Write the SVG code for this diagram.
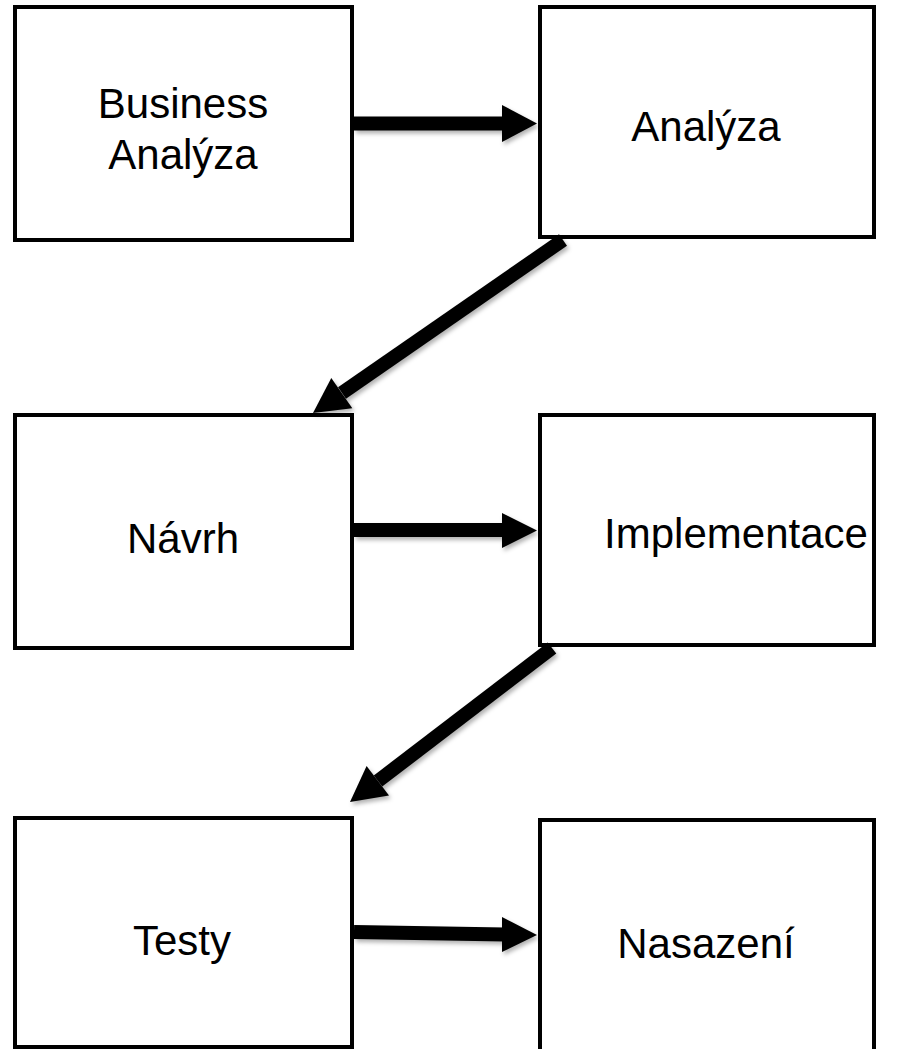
<svg xmlns="http://www.w3.org/2000/svg" width="922" height="1049" viewBox="0 0 922 1049">
<style>
.box{fill:#fff;stroke:#000;stroke-width:4}
.lbl{font-family:"Liberation Sans",Arial,sans-serif;font-size:42px;fill:#000;text-anchor:middle}
.shaft{stroke:#000;stroke-width:14;fill:none}
.head{fill:#000}
</style>
<defs>
<filter id="sh" x="-20%" y="-20%" width="140%" height="140%">
<feDropShadow dx="2" dy="3" stdDeviation="2" flood-color="#000" flood-opacity="0.3"/>
</filter>
</defs>
<rect width="922" height="1049" fill="#fff"/>
<g id="n1"><rect class="box" x="15" y="7" width="337" height="233"/><text class="lbl" x="183" y="118">Business</text><text class="lbl" x="183" y="169">Analýza</text></g>
<g id="n2"><rect class="box" x="540" y="7" width="334" height="230"/><text class="lbl" x="706" y="141">Analýza</text></g>
<g id="n3"><rect class="box" x="15" y="415" width="337" height="233"/><text class="lbl" x="183" y="553">Návrh</text></g>
<g id="n4"><rect class="box" x="540" y="415" width="334" height="230"/><text class="lbl" x="736" y="548">Implementace</text></g>
<g id="n5"><rect class="box" x="15" y="818" width="337" height="229"/><text class="lbl" x="182" y="955">Testy</text></g>
<g id="n6"><rect class="box" x="540" y="820" width="334" height="240"/><text class="lbl" x="706" y="958">Nasazení</text></g>
<g id="connectors" filter="url(#sh)">
<line class="shaft" x1="354" y1="123.5" x2="505" y2="123.5"/>
<polygon class="head" points="502,105 537,123.5 502,142"/>
<line class="shaft" x1="563" y1="240" x2="342" y2="393"/>
<polygon class="head" points="352.3,408.3 313,413 331.3,377.9"/>
<line class="shaft" x1="354" y1="530" x2="505" y2="530"/>
<polygon class="head" points="502,513 537,530.5 502,548"/>
<line class="shaft" x1="552" y1="648" x2="378" y2="781"/>
<polygon class="head" points="389,795.5 350,802 366.6,766.1"/>
<line class="shaft" x1="354" y1="932" x2="505" y2="934.5"/>
<polygon class="head" points="502,917 537,935 502,952"/>
</g>
</svg>
